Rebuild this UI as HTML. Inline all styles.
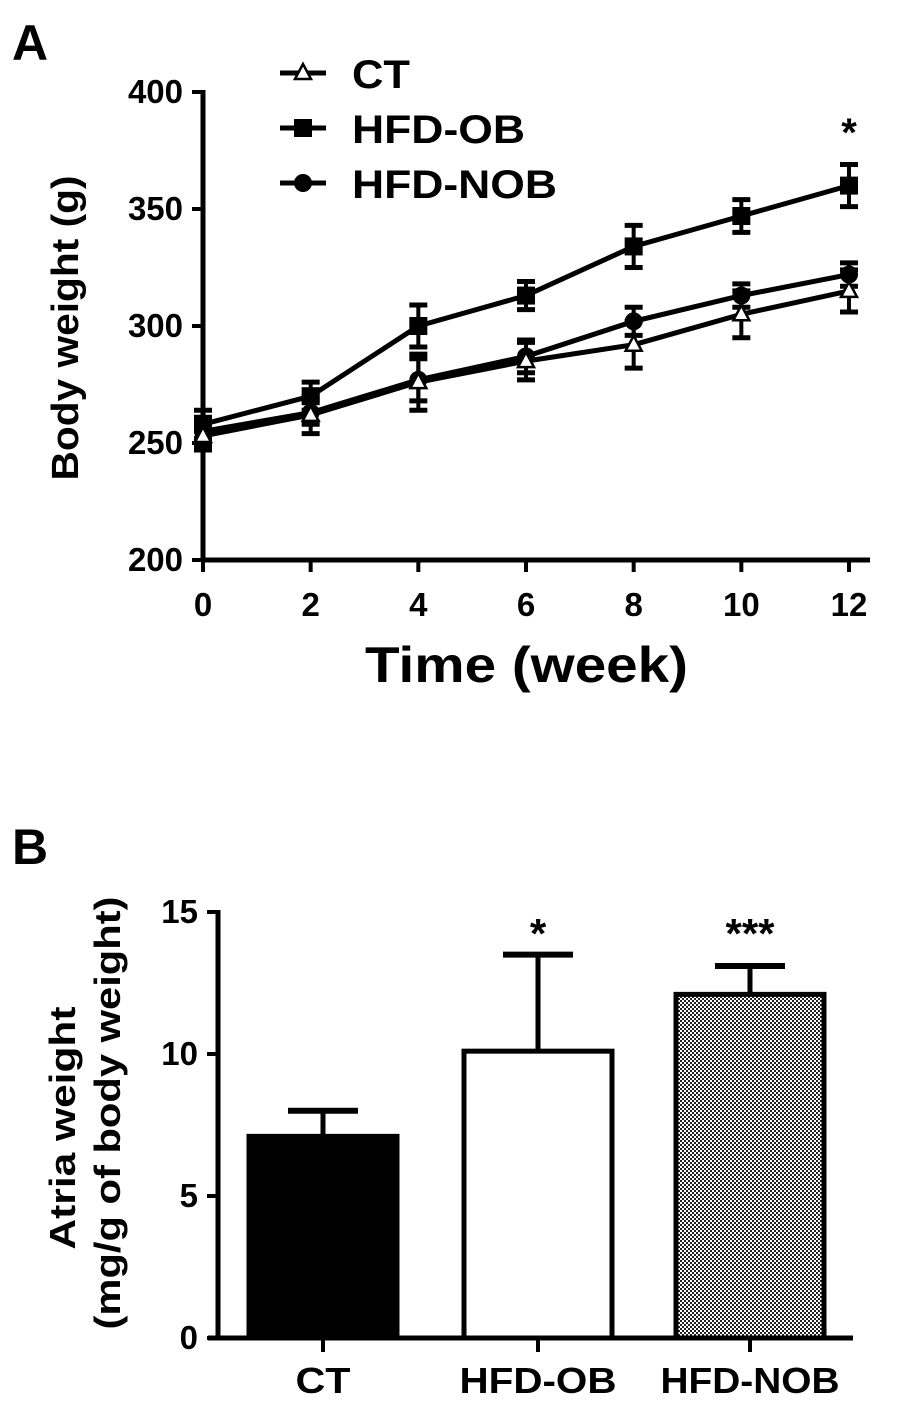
<!DOCTYPE html>
<html><head><meta charset="utf-8"><style>
body{margin:0;background:#fff}
svg text{font-family:"Liberation Sans",Arial,sans-serif;font-weight:bold;fill:#000}
</style></head><body>
<svg id="fig" width="921" height="1406" viewBox="0 0 921 1406" xmlns="http://www.w3.org/2000/svg">
<defs><pattern id="dots" width="4" height="4" patternUnits="userSpaceOnUse"><rect width="4" height="4" fill="#fff"/><rect width="2" height="2" fill="#222"/><rect x="2" y="2" width="2" height="2" fill="#222"/></pattern></defs>
<text x="12" y="60" font-size="50">A</text>
<text x="12" y="864" font-size="50">B</text>
<g id="pa"></g>
<g id="pb"></g>
</svg>
<script>
const weeks=[0,2,4,6,8,10,12];
const ctVals=[253,262,276,285,292,305,315];
const ctErr=[6,8,12,8,10,10,9];
const obVals=[258,270,300,313,334,347,360];
const obErr=[6,6,9,6,9,7,9];
const nobVals=[255,263,277,287,302,313,322];
const nobErr=[6,5,9,7,6,5,5];
const yTicksA=[200,250,300,350,400];
const xTicksA=[0,2,4,6,8,10,12];
const barCats=["CT","HFD-OB","HFD-NOB"];
const barVals=[7.1,10.1,12.1];
const barErr=[0.9,3.4,1.0];
const barStars=["","*","***"];
const yTicksB=[0,5,10,15];

const NS="http://www.w3.org/2000/svg";
function mk(p,t,a){const e=document.createElementNS(NS,t);for(const k in a)e.setAttribute(k,a[k]);p.appendChild(e);return e;}
const pa=document.getElementById('pa'),pb=document.getElementById('pb');
const ax=x=>203+x*(849-203)/12, ay=v=>560-(v-200)*(468/200);
let e;
e=mk(pa,'line',{x1:203,y1:90,x2:203,y2:562,stroke:'#000','stroke-width':5});


e=mk(pa,'line',{x1:201,y1:560,x2:870,y2:560,stroke:'#000','stroke-width':5});


yTicksA.forEach(v=>{mk(pa,'line',{x1:192,y1:ay(v),x2:203,y2:ay(v),stroke:'#000','stroke-width':4});
 e=mk(pa,'text',{x:183,y:ay(v)+11,'font-size':33,'text-anchor':'end'});e.textContent=v;
 
 });
xTicksA.forEach(v=>{mk(pa,'line',{x1:ax(v),y1:560,x2:ax(v),y2:572,stroke:'#000','stroke-width':4});
 e=mk(pa,'text',{x:ax(v),y:616,'font-size':33,'text-anchor':'middle'});e.textContent=v;
 
 });
e=mk(pa,'text',{x:365,y:682,'font-size':50,textLength:323,lengthAdjust:'spacingAndGlyphs','xml:space':'preserve'});e.textContent='Time  (week)';


e=mk(pa,'text',{x:0,y:0,'font-size':38,textLength:305,lengthAdjust:'spacingAndGlyphs','text-anchor':'middle',transform:'translate(78,328) rotate(-90)'});e.textContent='Body weight (g)';


function series(vals,errs,kind,name){
 const g=mk(pa,'g',{});
 
 
 mk(g,'polyline',{points:weeks.map((w,i)=>ax(w)+','+ay(vals[i])).join(' '),fill:'none',stroke:'#000','stroke-width':5});
 weeks.forEach((w,i)=>{const x=ax(w),t=ay(vals[i]+errs[i]),b=ay(vals[i]-errs[i]);
  mk(g,'line',{x1:x,y1:t,x2:x,y2:b,stroke:'#000','stroke-width':4});
  mk(g,'line',{x1:x-9,y1:t,x2:x+9,y2:t,stroke:'#000','stroke-width':5});
  mk(g,'line',{x1:x-9,y1:b,x2:x+9,y2:b,stroke:'#000','stroke-width':5});
  marker(g,kind,x,ay(vals[i]));});
}
function marker(g,kind,x,y){
 if(kind==='sq')mk(g,'rect',{x:x-9,y:y-9,width:18,height:18,fill:'#000'});
 else if(kind==='ci')mk(g,'circle',{cx:x,cy:y,r:9,fill:'#000'});
 else mk(g,'polygon',{points:`${x},${y-9} ${x-8},${y+6} ${x+8},${y+6}`,fill:'#fff',stroke:'#000','stroke-width':2.5});
}
series(obVals,obErr,'sq','series-hfd-ob');
series(nobVals,nobErr,'ci','series-hfd-nob');
series(ctVals,ctErr,'tri','series-ct');
e=mk(pa,'text',{x:ax(12),y:146,'font-size':40,'text-anchor':'middle'});e.textContent='*';


[['CT','tri',73,58],['HFD-OB','sq',128,173],['HFD-NOB','ci',183,205]].forEach(([t,k,y,L])=>{
 const g=mk(pa,'g',{});
 
 
 mk(g,'line',{x1:280,y1:y,x2:326,y2:y,stroke:'#000','stroke-width':5});
 marker(g,k,303,y);
 const tx=mk(g,'text',{x:352,y:y+15,'font-size':40,textLength:L,lengthAdjust:'spacingAndGlyphs'});tx.textContent=t;});
// Panel B
const by=v=>1338-v*(426/15);
const bx=[323,538,750], bw=148;
const fills=['#000','#fff','url(#dots)'];
const catLen=[55,157,179];
barCats.forEach((c,i)=>{
 const x=bx[i]-bw/2,t=by(barVals[i]);
 const et=by(barVals[i]+barErr[i]);
 e=mk(pb,'line',{x1:bx[i],y1:et,x2:bx[i],y2:t,stroke:'#000','stroke-width':5});
 
 
 mk(pb,'line',{x1:bx[i]-35,y1:et,x2:bx[i]+35,y2:et,stroke:'#000','stroke-width':6});
 e=mk(pb,'rect',{x:x,y:t,width:bw,height:1338-t,fill:fills[i],stroke:'#000','stroke-width':5});
 
 
 mk(pb,'line',{x1:bx[i],y1:1338,x2:bx[i],y2:1352,stroke:'#000','stroke-width':4});
 e=mk(pb,'text',{x:bx[i],y:1393,'font-size':36,'text-anchor':'middle',textLength:catLen[i],lengthAdjust:'spacingAndGlyphs'});e.textContent=c;
 
 
 if(barStars[i]){e=mk(pb,'text',{x:bx[i],y:948,'font-size':42,'text-anchor':'middle'});e.textContent=barStars[i];
 
 }
});
e=mk(pb,'line',{x1:218,y1:910,x2:218,y2:1340,stroke:'#000','stroke-width':5});


e=mk(pb,'line',{x1:208,y1:1338,x2:853,y2:1338,stroke:'#000','stroke-width':5});


yTicksB.forEach(v=>{mk(pb,'line',{x1:207,y1:by(v),x2:218,y2:by(v),stroke:'#000','stroke-width':4});
 e=mk(pb,'text',{x:198,y:by(v)+11,'font-size':33,'text-anchor':'end'});e.textContent=v;
 
 });
e=mk(pb,'text',{x:0,y:0,'font-size':36,textLength:243,lengthAdjust:'spacingAndGlyphs','text-anchor':'middle',transform:'translate(75,1128) rotate(-90)'});e.textContent='Atria weight';


e=mk(pb,'text',{x:0,y:0,'font-size':36,textLength:433,lengthAdjust:'spacingAndGlyphs','text-anchor':'middle',transform:'translate(120,1113) rotate(-90)'});e.textContent='(mg/g of body weight)';


</script>
</body></html>
